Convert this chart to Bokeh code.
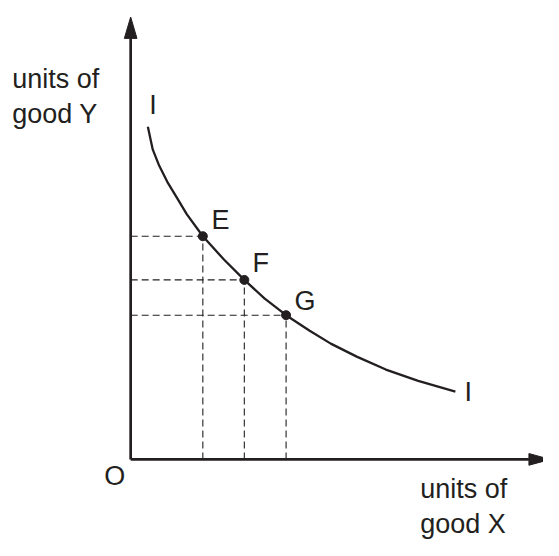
from bokeh.plotting import figure
from bokeh.models import Range1d, ColumnDataSource
from bokeh.core.properties import value
from bokeh.embed import file_html
from bokeh.resources import INLINE

# ---- data (units of good X / units of good Y) ----
curve_x = [1.77, 2.27, 2.93, 3.77, 4.77, 5.77, 7.43, 9.6, 11.7, 13.77, 16.0,
           18.43, 20.6, 23.27, 26.27, 29.6, 33.43]
curve_y = [34.25, 31.92, 30.25, 28.58, 26.92, 25.25, 22.98, 20.58, 18.48, 16.58,
           14.85, 13.25, 11.92, 10.58, 9.25, 8.08, 6.98]

point_labels = ["E", "F", "G"]
point_x = [7.43, 11.7, 16.0]
point_y = [22.98, 18.48, 14.85]

y_axis_top = 45.55
x_axis_end = 43.2

y_label_lines = ["units of", "good Y"]
x_label_lines = ["units of", "good X"]
curve_label = "I"
origin_label = "O"

INK = "#231f20"
FONT = value("Liberation Sans")
FS = "27px"
TDY = 0.95  # baseline correction for svg text

p = figure(width=543, height=540, output_backend="svg", toolbar_location=None,
           x_range=Range1d(-13.4, 42.5), y_range=Range1d(-8.35, 47.25),
           x_axis_type=None, y_axis_type=None, min_border=0,
           background_fill_color="white", border_fill_color="white")
p.outline_line_color = None
p.xgrid.visible = False
p.ygrid.visible = False

# axes with arrow heads
ay_len, ay_hw = 2.2, 0.65
ax_len, ax_hw = 2.2, 0.6
p.line([0, 0], [0, y_axis_top - ay_len], line_color=INK, line_width=2.7)
p.line([0, x_axis_end - ax_len], [0, 0], line_color=INK, line_width=2.7)
p.patch([0, -ay_hw, ay_hw], [y_axis_top, y_axis_top - ay_len, y_axis_top - ay_len],
        fill_color=INK, line_color=INK, line_width=1)
p.patch([x_axis_end, x_axis_end - ax_len, x_axis_end - ax_len], [0, ax_hw, -ax_hw],
        fill_color=INK, line_color=INK, line_width=1)

# dashed guide lines
zeros = [0] * len(point_x)
src = ColumnDataSource(dict(x=point_x, y=point_y, z=zeros, lab=point_labels))
p.segment(x0="z", y0="y", x1="x", y1="y", source=src, line_color=INK,
          line_width=1.1, line_dash="7 4")
p.segment(x0="x", y0="z", x1="x", y1="y", source=src, line_color=INK,
          line_width=1.1, line_dash="7 4")

# indifference curve
p.line(curve_x, curve_y, line_color=INK, line_width=2.3)
p.scatter("x", "y", source=src, size=9, fill_color=INK, line_color=INK)

txt = dict(text_font=FONT, text_font_size=FS, text_baseline="alphabetic",
           text_color=INK)

# point labels
lab_x = [px + dx for px, dx in zip(point_x, [1.82, 1.7, 1.95])]
lab_y = [py + dy + TDY for py, dy in zip(point_y, [0.67, 0.77, 0.5])]
p.text(lab_x, lab_y, text=point_labels, text_align="center", **txt)

# curve labels
p.text([2.3, 34.75], [35.5 + TDY, 5.95 + TDY], text=[curve_label, curve_label],
       text_align="center", **txt)

# origin
p.text([-1.65], [-2.65 + TDY], text=[origin_label], text_align="center", **txt)

# axis titles
p.text([-12.2, -12.2], [38.25 + TDY, 34.65 + TDY], text=y_label_lines,
       text_align="left", **txt)
p.text([29.8, 29.8], [-3.95 + TDY, -7.55 + TDY], text=x_label_lines,
       text_align="left", **txt)

open("out.html", "w").write(file_html(p, INLINE))
